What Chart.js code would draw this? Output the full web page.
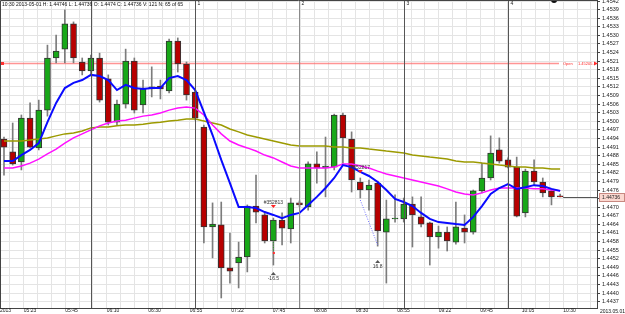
<!DOCTYPE html>
<html>
<head>
<meta charset="utf-8">
<script src="https://cdn.jsdelivr.net/npm/chart.js@4"></script>
<style>
html,body{margin:0;padding:0;background:#fff;}
canvas{display:block;}
</style>
</head>
<body>
<canvas id="chart" width="625" height="314"></canvas>
<script>
"use strict"

// 5 minute candles, 05:10 .. 10:30 (65 bars)
var opens = [1.44938,1.44893,1.44858,1.45011,1.44907,1.45039,1.45221,1.45252,1.45340,1.45207,
    1.45176,1.45221,1.45148,1.44997,1.45060,1.45210,1.45057,1.45113,1.45123,1.45106,
    1.45280,1.45200,1.45102,1.44980,1.44631,1.44638,1.44488,1.44505,1.44526,1.44704,
    1.44673,1.44582,1.44655,1.44624,1.44715,1.44701,1.44851,1.44837,1.44840,1.45022,
    1.44938,1.44788,1.44760,1.44784,1.44613,1.44659,1.44659,1.44711,1.44666,1.44645,
    1.44596,1.44613,1.44578,1.44627,1.44613,1.44757,1.44802,1.44900,1.44865,1.44840,
    1.44680,1.44826,1.44788,1.44757,1.44740]
var highs = [1.44945,1.44994,1.45022,1.45064,1.45074,1.45266,1.45301,1.45389,1.45347,1.45221,
    1.45231,1.45238,1.45162,1.45074,1.45252,1.45221,1.45144,1.45190,1.45144,1.45287,
    1.45291,1.45207,1.45109,1.44987,1.44715,1.44718,1.44610,1.44578,1.44708,1.44812,
    1.44680,1.44662,1.44680,1.44732,1.44722,1.44858,1.44893,1.44945,1.45025,1.45029,
    1.44963,1.44802,1.44795,1.44791,1.44725,1.44743,1.44732,1.44736,1.44736,1.44648,
    1.44634,1.44631,1.44718,1.44673,1.44760,1.44854,1.44949,1.44942,1.44872,1.44875,
    1.44833,1.44865,1.44802,1.44760,1.44746]
var lows = [1.44812,1.44847,1.44830,1.44907,1.44900,1.45018,1.45204,1.45204,1.45204,1.45162,
    1.45162,1.45067,1.44987,1.44987,1.45046,1.45029,1.45029,1.45085,1.45078,1.45099,
    1.45172,1.45074,1.45004,1.44575,1.44523,1.44383,1.44435,1.44418,1.44474,1.44645,
    1.44575,1.44498,1.44568,1.44575,1.44701,1.44690,1.44784,1.44736,1.44830,1.44854,
    1.44753,1.44732,1.44690,1.44564,1.44435,1.44648,1.44648,1.44561,1.44631,1.44498,
    1.44557,1.44547,1.44571,1.44575,1.44606,1.44750,1.44795,1.44854,1.44837,1.44666,
    1.44666,1.44777,1.44736,1.44708,1.44736]
var closes = [1.44910,1.44851,1.45011,1.44910,1.45039,1.45221,1.45245,1.45340,1.45221,1.45176,
    1.45221,1.45074,1.44997,1.45060,1.45210,1.45039,1.45116,1.45120,1.45113,1.45280,
    1.45200,1.45092,1.45011,1.44631,1.44641,1.44488,1.44477,1.44526,1.44704,1.44683,
    1.44582,1.44655,1.44627,1.44715,1.44708,1.44851,1.44837,1.44844,1.45022,1.44942,
    1.44795,1.44760,1.44777,1.44617,1.44659,1.44662,1.44711,1.44673,1.44641,1.44596,
    1.44613,1.44582,1.44631,1.44613,1.44757,1.44802,1.44889,1.44861,1.44840,1.44669,
    1.44826,1.44788,1.44750,1.44736,1.44736]

// moving averages (blue fast, magenta mid, olive slow)
var maFast = [1.44861,1.44861,1.44882,1.44900,1.44924,1.44997,1.45064,1.45116,1.45134,1.45144,
    1.45162,1.45158,1.45144,1.45109,1.45127,1.45116,1.45113,1.45116,1.45116,1.45151,
    1.45158,1.45144,1.45109,1.45032,1.44952,1.44865,1.44784,1.44701,1.44701,1.44697,
    1.44683,1.44673,1.44662,1.44673,1.44680,1.44708,1.44736,1.44767,1.44802,1.44847,
    1.44840,1.44823,1.44809,1.44788,1.44760,1.44729,1.44718,1.44704,1.44680,1.44659,
    1.44648,1.44645,1.44641,1.44638,1.44666,1.44704,1.44746,1.44767,1.44781,1.44764,
    1.44770,1.44777,1.44774,1.44764,1.44757]
var maMid = [1.44837,1.44837,1.44844,1.44854,1.44868,1.44886,1.44903,1.44924,1.44942,1.44956,
    1.44970,1.44984,1.44994,1.45001,1.45004,1.45011,1.45018,1.45022,1.45029,1.45039,
    1.45046,1.45050,1.45046,1.45022,1.44987,1.44956,1.44931,1.44917,1.44907,1.44896,
    1.44882,1.44872,1.44858,1.44844,1.44837,1.44837,1.44837,1.44837,1.44840,1.44851,
    1.44851,1.44844,1.44837,1.44826,1.44816,1.44809,1.44802,1.44795,1.44788,1.44781,
    1.44774,1.44764,1.44753,1.44746,1.44743,1.44750,1.44760,1.44767,1.44767,1.44767,
    1.44767,1.44764,1.44764,1.44760,1.44757]
var maSlow = [1.44931,1.44931,1.44931,1.44935,1.44938,1.44942,1.44949,1.44956,1.44959,1.44966,
    1.44977,1.44980,1.44980,1.44984,1.44987,1.44987,1.44990,1.44994,1.44997,1.45001,
    1.45004,1.45008,1.45008,1.45001,1.44994,1.44987,1.44973,1.44963,1.44952,1.44945,
    1.44938,1.44931,1.44924,1.44917,1.44914,1.44914,1.44914,1.44914,1.44910,1.44910,
    1.44907,1.44907,1.44903,1.44900,1.44896,1.44893,1.44889,1.44882,1.44879,1.44875,
    1.44872,1.44868,1.44861,1.44858,1.44858,1.44854,1.44851,1.44847,1.44844,1.44840,
    1.44840,1.44837,1.44837,1.44833,1.44833]

// axis labels
var priceTicks = [1.4437,1.4440,1.4443,1.4446,1.4449,1.4452,1.4455,1.4458,1.4461,1.4464,
    1.4467,1.4470,1.4473,1.4476,1.4479,1.4482,1.4485,1.4488,1.4491,1.4494,
    1.4497,1.4500,1.4503,1.4506,1.4509,1.4512,1.4515,1.4518,1.4521,1.4524,
    1.4527,1.4530,1.4533,1.4536,1.4539,1.4542]
var timeLabels = ['05:23','05:45','06:10','06:30','06:55','07:22','07:45','08:08','08:30','08:55','09:22','09:45','10:05','10:30']

// bars where a new hour starts, and the session numbers above them
var hourBars = [10,22,34,46,58]
var hourNames = ['','1','2','3','4']

var openPrice = 1.45205
var headerText = '10:30 2013-05-01 H: 1.44746 L: 1.44736 O: 1.4474 C: 1.44736 V: 121 N: 65 of 65'

// trade marks: bar index, price, text
var entryMarks = [{bar:31, price:1.44701, text:'#352813'}, {bar:41, price:1.44823, text:'#352817'}]
var exitMarks = [{bar:31, price:1.44467, text:'-16.5'}, {bar:43, price:1.44509, text:'16.8'}]

var colUp = '#18a818'
var colDown = '#b80000'
var gridStart = 0.69   // first vertical grid line, in bars
var gridStep = 1.5915  // spacing of vertical grid lines, in bars

Chart.defaults.font.family = "'Liberation Sans', sans-serif"
Chart.defaults.color = '#222'

var bodyData = opens.map(function(o, i){ return {x:i, y:[o, closes[i]]} })
var wickData = lows.map(function(l, i){ return {x:i, y:[l, highs[i]]} })
var bodyCols = opens.map(function(o, i){ return closes[i] >= o ? colUp : colDown })
function toPoints(arr){ return arr.map(function(v, i){ return {x:i, y:v} }) }

var extras = {
    id:'extras',
    beforeDatasetsDraw:function(chart){
        var ctx = chart.ctx, a = chart.chartArea
        var ys = chart.scales.y
        var y = Math.round(ys.getPixelForValue(openPrice)) + 0.5
        ctx.save()
        ctx.strokeStyle = 'rgba(255,90,90,0.65)'
        ctx.lineWidth = 1.5
        ctx.beginPath(); ctx.moveTo(a.left, y); ctx.lineTo(a.right - 38, y); ctx.stroke()
        ctx.restore()
    },
    afterDatasetsDraw:function(chart){
        var ctx = chart.ctx, a = chart.chartArea
        var xs = chart.scales.x, ys = chart.scales.y
        ctx.save()
        // hour separators
        hourBars.forEach(function(b, k){
            var x = Math.round(xs.getPixelForValue(b)) + 0.5
            ctx.strokeStyle = k == 2 ? '#8a8a8a' : '#555'
            ctx.lineWidth = 1
            ctx.beginPath(); ctx.moveTo(x, a.top); ctx.lineTo(x, a.bottom); ctx.stroke()
            if(hourNames[k]){
                ctx.fillStyle = '#222'
                ctx.font = "5px 'Liberation Sans'"
                ctx.textBaseline = 'middle'
                ctx.fillText(hourNames[k], x + 2, 4)
            }
        })
        // open price label
        var yo = Math.round(ys.getPixelForValue(openPrice)) + 0.5
        ctx.fillStyle = '#ff3030'
        ctx.fillRect(a.left + 1, yo - 1.5, 3, 3)
        ctx.font = "4px 'Liberation Sans'"
        ctx.textBaseline = 'middle'
        ctx.fillStyle = '#ff2a2a'
        ctx.fillText('Open', a.right - 34, yo)
        ctx.fillText('1.45205 -', a.right - 19, yo)
        ctx.beginPath(); ctx.moveTo(a.right - 3, yo - 2); ctx.lineTo(a.right + 1, yo); ctx.lineTo(a.right - 3, yo + 2); ctx.fill()
        // last price line + box
        var last = closes.length - 1
        var yl = Math.round(ys.getPixelForValue(closes[last])) + 0.5
        ctx.strokeStyle = '#555'
        ctx.beginPath(); ctx.moveTo(xs.getPixelForValue(last) + 3, yl); ctx.lineTo(a.right, yl); ctx.stroke()
        ctx.fillStyle = '#fbd8d0'
        ctx.strokeStyle = '#c88880'
        ctx.fillRect(a.right + 2.5, yl - 4, 25, 8)
        ctx.strokeRect(a.right + 2.5, yl - 4, 25, 8)
        ctx.fillStyle = '#222'
        ctx.font = "5px 'Liberation Sans'"
        ctx.fillText(closes[last].toFixed(5), a.right + 5, yl)
        // trade marks
        ctx.textAlign = 'center'
        entryMarks.forEach(function(m){
            var x = xs.getPixelForValue(m.bar), y = ys.getPixelForValue(m.price)
            ctx.fillStyle = '#ff2020'
            ctx.beginPath(); ctx.moveTo(x - 2.5, y - 2); ctx.lineTo(x + 2.5, y - 2); ctx.lineTo(x, y + 1); ctx.fill()
            ctx.fillStyle = '#333'
            ctx.fillText(m.text, x, y - 4)
        })
        exitMarks.forEach(function(m){
            var x = xs.getPixelForValue(m.bar), y = ys.getPixelForValue(m.price)
            ctx.fillStyle = '#555'
            ctx.beginPath(); ctx.moveTo(x - 2.5, y + 1); ctx.lineTo(x + 2.5, y + 1); ctx.lineTo(x, y - 2); ctx.fill()
            ctx.fillStyle = '#333'
            ctx.fillText(m.text, x, y + 4.5)
        })
        // dotted trade links
        ctx.setLineDash([1, 1.5])
        ctx.strokeStyle = '#7070ff'
        ctx.beginPath()
        ctx.moveTo(xs.getPixelForValue(41), ys.getPixelForValue(1.44725))
        ctx.lineTo(xs.getPixelForValue(43), ys.getPixelForValue(1.44568))
        ctx.stroke()
        ctx.strokeStyle = '#20a020'
        ctx.beginPath()
        ctx.moveTo(xs.getPixelForValue(31), ys.getPixelForValue(1.44648))
        ctx.lineTo(xs.getPixelForValue(31), ys.getPixelForValue(1.44544))
        ctx.stroke()
        ctx.setLineDash([])
        ctx.fillStyle = '#ff3030'
        ctx.fillRect(xs.getPixelForValue(31) - 0.5, ys.getPixelForValue(1.44540) - 1, 2, 2)
        // black dot at top
        ctx.fillStyle = '#111'
        ctx.beginPath(); ctx.arc(xs.getPixelForValue(63.3), a.top, 3, 0, Math.PI * 2); ctx.fill()
        // frame
        ctx.strokeStyle = '#444'
        ctx.lineWidth = 1
        ctx.beginPath()
        ctx.moveTo(a.left + 0.5, a.bottom); ctx.lineTo(a.left + 0.5, a.top + 0.5); ctx.lineTo(a.right, a.top + 0.5)
        ctx.stroke()
        // header and date
        ctx.textAlign = 'left'
        ctx.fillStyle = '#111'
        ctx.font = "5px 'Liberation Sans'"
        ctx.fillText(headerText, a.left + 2, 5)
        ctx.fillText('2013.05.01', a.right + 3, a.bottom + 3.5)
        ctx.restore()
    }
}

new Chart(document.getElementById('chart'), {
    type:'bar',
    data:{
        datasets:[
            {type:'line', data:toPoints(maFast), borderColor:'#0a0aff', borderWidth:2, pointRadius:0, order:0},
            {type:'line', data:toPoints(maMid), borderColor:'#ff10ff', borderWidth:1.5, pointRadius:0, order:1},
            {type:'line', data:toPoints(maSlow), borderColor:'#9c9a00', borderWidth:1.5, pointRadius:0, order:2},
            {data:bodyData, backgroundColor:bodyCols, borderColor:'#333', borderWidth:1, borderSkipped:false,
                barThickness:6, grouped:false, order:3},
            {data:wickData, backgroundColor:'#7c7c7c', borderWidth:0, barThickness:1, grouped:false, order:4}
        ]
    },
    options:{
        responsive:false,
        animation:false,
        devicePixelRatio:1,
        layout:{padding:0},
        plugins:{legend:{display:false}, tooltip:{enabled:false}},
        scales:{
            x:{
                type:'linear',
                min:-0.46, max:68.24,
                offset:false,
                grid:{color:'#e4e4e4', offset:false, drawTicks:false},
                border:{color:'#444'},
                ticks:{
                    autoSkip:false, maxRotation:0, align:'start', padding:0,
                    font:{size:5},
                    callback:function(v, i){
                        if(i == 0) return '2013'
                        var k = i - 1
                        return k % 3 == 1 ? (timeLabels[(k - 1) / 3] || '') : ''
                    }
                },
                afterBuildTicks:function(scale){
                    var t = [{value:scale.min}]
                    for(var k = 0; gridStart + k * gridStep < scale.max; k++) t.push({value:gridStart + k * gridStep})
                    scale.ticks = t
                },
                afterFit:function(scale){
                    scale.height = 6
                    scale.paddingLeft = 0; scale.paddingRight = 0
                }
            },
            y:{
                position:'right',
                min:1.44348, max:1.454235,
                grid:{color:'#e4e4e4', tickColor:'#444', tickLength:3},
                border:{color:'#444'},
                ticks:{
                    autoSkip:false, padding:2,
                    font:{size:5.5},
                    callback:function(v){ return v.toFixed(4) }
                },
                afterBuildTicks:function(scale){
                    scale.ticks = priceTicks.map(function(v){ return {value:v} })
                },
                afterFit:function(scale){
                    scale.width = 28
                    scale.paddingTop = 0; scale.paddingBottom = 0
                }
            }
        }
    },
    plugins:[extras]
})
</script>
</body>
</html>
